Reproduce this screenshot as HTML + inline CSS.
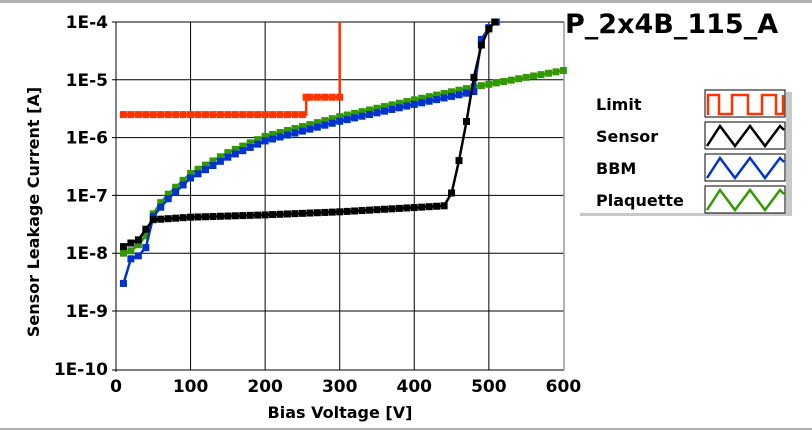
<!DOCTYPE html>
<html><head><meta charset="utf-8"><style>
body{margin:0;background:#fff;}
svg{display:block;font-family:"DejaVu Sans","Liberation Sans",sans-serif;font-weight:bold;}
</style></head><body>
<svg id="s" width="812" height="433" xmlns="http://www.w3.org/2000/svg">
<rect x="0" y="0" width="812" height="3" fill="#b0b0b0"/>
<rect x="0" y="428" width="812" height="2" fill="#b0b0b0"/>
<rect x="116" y="22" width="448" height="348" fill="#fff"/>
<g id="grid" stroke="#000" stroke-width="1"></g>
<line x1="564" y1="22" x2="564" y2="370" stroke="#999" stroke-width="1.5"/>
<line x1="116" y1="22" x2="116" y2="372" stroke="#000" stroke-width="1"/>
<g id="ticks" font-size="17" fill="#000"></g>
<text transform="translate(39,212) rotate(-90)" text-anchor="middle" font-size="16">Sensor Leakage Current [A]</text>
<text x="340" y="418" text-anchor="middle" font-size="16">Bias Voltage [V]</text>
<text x="565" y="33" font-size="27">P_2x4B_115_A</text>
<g id="series"></g>
<rect x="786" y="92" width="6" height="124" fill="#c8c8c8"/>
<rect x="580" y="213" width="212" height="3" fill="#c8c8c8"/>
<g font-size="16" fill="#000">
<text x="596" y="110">Limit</text>
<text x="596" y="142">Sensor</text>
<text x="596" y="174">BBM</text>
<text x="596" y="206">Plaquette</text>
</g>
<g stroke="#000" fill="#fff" stroke-width="1">
<rect x="705" y="90" width="80" height="27"/>
<rect x="705" y="122" width="80" height="27"/>
<rect x="705" y="154" width="80" height="27"/>
<rect x="705" y="186" width="80" height="27"/>
</g>
<g fill="none" stroke-width="2.5">
<polyline stroke="#ff3300" points="708,115 708,95 719,95 719,114 732,114 732,95 748,95 748,114 762,114 762,95 776,95 776,114 783,114 783,95"/>
<polyline stroke="#000" points="707,146 720,126 735,146 750,126 765,146 780,126 784,130"/>
<polyline stroke="#0033cc" points="707,178 720,158 735,178 750,158 765,178 780,158 784,162"/>
<polyline stroke="#339900" points="707,210 720,190 735,210 750,190 765,210 780,190 784,194"/>
</g>
</svg>
<script>
const NS="http://www.w3.org/2000/svg";
const X=v=>116+v*0.7457, Y=I=>22+(-4-Math.log10(I))*57.8;
function el(p,t,a,txt){const e=document.createElementNS(NS,t);for(const k in a)e.setAttribute(k,a[k]);if(txt)e.textContent=txt;document.getElementById(p).appendChild(e);return e;}
for(let v=100;v<=500;v+=100)el("grid","line",{x1:X(v),y1:22,x2:X(v),y2:370});
for(let d=-4;d>=-9;d--){const y=Y(Math.pow(10,d));el("grid","line",{x1:112,y1:y,x2:564,y2:y});}
el("grid","line",{x1:112,y1:370,x2:564,y2:370});
for(let v=0;v<=600;v+=100)el("ticks","text",{x:X(v),y:392,"text-anchor":"middle"},String(v));
for(let d=-4;d>=-10;d--)el("ticks","text",{x:108,y:Y(Math.pow(10,d))+6,"text-anchor":"end"},"1E"+d);
function interp(anc,v){for(let i=0;i<anc.length-1;i++){const[a,la]=anc[i],[b,lb]=anc[i+1];if(v>=a&&v<=b){return Math.pow(10,Math.log10(la)+(Math.log10(lb)-Math.log10(la))*(v-a)/(b-a));}}return anc[anc.length-1][1];}
function series(pts,col){
 el("series","polyline",{points:pts.map(p=>X(p[0]).toFixed(1)+","+Y(p[1]).toFixed(1)).join(" "),fill:"none",stroke:col,"stroke-width":2.5});
 pts.forEach(p=>{if(p[2]===false)return;el("series","rect",{x:X(p[0])-3.5,y:Y(p[1])-3.5,width:7,height:7,fill:col});});
}
const gA=[[10,1e-8],[20,1.1e-8],[30,1.4e-8],[40,2e-8],[50,4.8e-8],[60,7.5e-8],[70,1.05e-7],[100,2.4e-7],[150,5.5e-7],[200,1.05e-6],[300,2.3e-6],[400,4.5e-6],[480,7.5e-6],[600,1.45e-5]];
let g=[];for(let v=10;v<=600;v+=10)g.push([v,interp(gA,v)]);
series(g,"#339900");
let b=[[10,3e-9],[20,8e-9],[30,9e-9],[40,1.25e-8],[50,4.3e-8]];
for(let v=60;v<=480;v+=10)b.push([v,interp(gA,v)/1.2]);
b.push([490,5e-5],[500,8e-5],[510,1e-4]);
series(b,"#0033cc");
const sA=[[50,3.8e-8],[100,4.2e-8],[200,4.6e-8],[300,5.2e-8],[440,6.6e-8]];
let s=[[10,1.3e-8],[20,1.5e-8],[30,1.7e-8],[40,2.6e-8]];
for(let v=50;v<=440;v+=10)s.push([v,interp(sA,v)]);
s.push([450,1.1e-7],[460,4e-7],[470,1.9e-6],[480,1.1e-5],[490,4e-5],[500,7.6e-5],[508,1e-4]);
series(s,"#000");
let l=[];for(let v=10;v<=250;v+=10)l.push([v,2.5e-6]);
l.push([255,2.5e-6,false],[255,5e-6],[260,5e-6],[270,5e-6],[280,5e-6],[290,5e-6],[300,5e-6],[300,1e-4,false]);
series(l,"#ff3300");
</script>
</body></html>
